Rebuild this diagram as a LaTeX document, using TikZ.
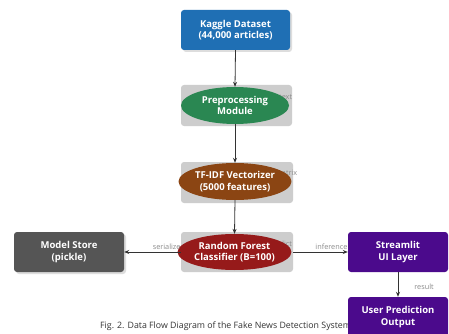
\documentclass[tikz,border=0pt]{standalone}
\usepackage{fontspec}
\setmainfont{Open Sans}
\usetikzlibrary{shapes.geometric,arrows.meta}
\definecolor{cblue}{HTML}{1F6FB4}
\definecolor{cgreen}{HTML}{2A8752}
\definecolor{cbrown}{HTML}{8B4513}
\definecolor{cred}{HTML}{961A1A}
\definecolor{cgrey}{HTML}{555555}
\definecolor{cpurple}{HTML}{4B0A8C}
\definecolor{cbg}{HTML}{CDCDCD}
\definecolor{cshadow}{HTML}{DDDDDD}
\definecolor{cline}{HTML}{333333}
\definecolor{clabel}{HTML}{8A8A8A}
\tikzset{
  box/.style={rectangle, rounded corners=3pt, text=white, font=\bfseries\fontsize{9.5}{11.5}\selectfont, align=center, inner sep=0pt},
  ell/.style={ellipse, text=white, font=\bfseries\fontsize{9.5}{11.5}\selectfont, align=center, inner sep=0pt},
  bgbox/.style={rectangle, rounded corners=3pt, fill=cbg, inner sep=0pt},
  shadowbox/.style={rectangle, rounded corners=3pt, fill=cshadow, inner sep=0pt},
  lbl/.style={text=clabel, font=\fontsize{7.3}{8.5}\selectfont, inner sep=0pt},
  flow/.style={draw=cline, line width=0.8pt, -{Stealth[length=5pt,width=4pt]}},
}
\begin{document}
\begin{tikzpicture}[x=1pt,y=-1pt]
\useasboundingbox[fill=white] (0,0) rectangle (449,334);
% caption (under the output box)
\node[anchor=west, text=cline, font=\fontsize{8.8}{10}\selectfont, inner sep=0pt] (cap) at (100,326) {Fig. 2. Data Flow Diagram of the Fake News Detection System};
% Kaggle
\node[shadowbox, minimum width=109, minimum height=40] (kaggleS) at (237.5,32) {};
\node[box, fill=cblue, minimum width=109, minimum height=40] (kaggle) at (235.5,30) {Kaggle Dataset\\(44,000 articles)};
% Preprocessing
\node[bgbox, minimum width=111, minimum height=41] (prepbg) at (236.5,105.5) {};
\node[lbl, anchor=west] (prepl) at (279,97) {text};
\node[ell, fill=cgreen, minimum width=108, minimum height=37] (prep) at (235,105.5) {Preprocessing\\Module};
% TF-IDF
\node[bgbox, minimum width=112, minimum height=41] (tfbg) at (237,182.5) {};
\node[lbl, anchor=west] (tfl) at (275,173) {matrix};
\node[ell, fill=cbrown, minimum width=108, minimum height=37] (tf) at (235,181.5) {TF-IDF Vectorizer\\(5000 features)};
% Random forest
\node[bgbox, minimum width=112, minimum height=40] (rfbg) at (237,252) {};
\node[lbl, anchor=west] (rfl) at (268,245) {predict};
\node[ell, fill=cred, minimum width=107, minimum height=36] (rf) at (234.5,252) {Random Forest\\Classifier (B=100)};
% Model store
\node[shadowbox, minimum width=110, minimum height=40] (modelS) at (71,254) {};
\node[box, fill=cgrey, minimum width=110, minimum height=40] (model) at (69,252) {Model Store\\(pickle)};
% Streamlit
\node[box, fill=cpurple, minimum width=100, minimum height=40] (ui) at (398,252) {Streamlit\\UI Layer};
% User output
\node[box, fill=cpurple, minimum width=100, minimum height=40] (out) at (398,317) {User Prediction\\Output};
% connectors
\draw[flow] (kaggle.south) -- (prep.north);
\draw[flow] (prep.south) -- (tf.north);
\draw[flow] (tf.south) -- (rf.north);
\draw[flow] (rfbg.west) -- node[lbl, above=2pt, pos=0.25] (ser) {serialize} (model.east);
\draw[flow] (rfbg.east) -- node[lbl, above=2pt, pos=0.7] (inf) {inference} (ui.west);
\draw[flow] (ui.south) -- node[lbl, right=16pt, pos=0.6] (res) {result} (out.north);
\end{tikzpicture}
\end{document}
